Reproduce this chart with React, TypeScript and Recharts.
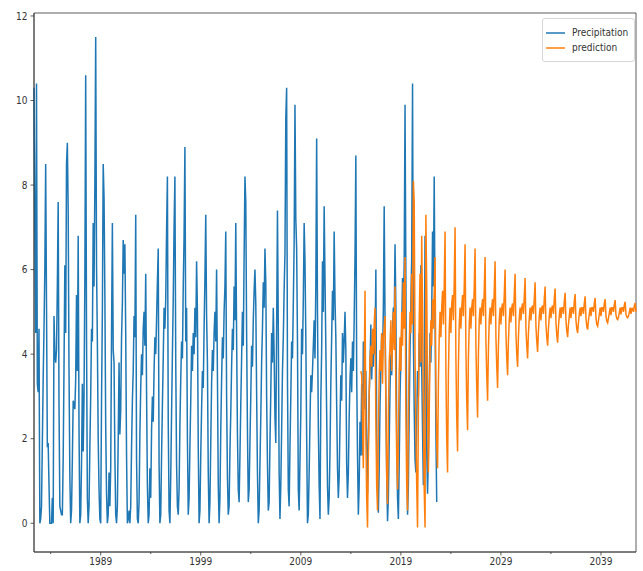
import React from "react";
import {
  LineChart,
  Line,
  XAxis,
  YAxis,
  Legend,
  ReferenceArea,
} from "recharts";

const FONT = "'DejaVu Sans Condensed', 'DejaVu Sans', sans-serif";
const BLUE = "#1f77b4";
const ORANGE = "#ff7f0e";

// monthly precipitation, one row per calendar year (Jan..Dec), first row starts in May 1982
const PRECIP_FIRST_YEAR = 1982;
const precipitationByYear: (number | null)[][] = [
  [null, null, null, null, 10.3, 6.9, 4.5, 10.4, 3.3, 3.1, 4.6, 0.0], // 1982
  [0.1, 0.4, 1.9, 3.4, 4.6, 6.0, 8.5, 5.2, 1.8, 1.9, 0.9, 0.0], // 1983
  [0.0, 0.0, 0.6, 0.0, 4.9, 4.0, 3.8, 4.1, 5.6, 7.6, 2.8, 0.4], // 1984
  [0.3, 0.2, 0.2, 1.5, 3.7, 6.1, 4.5, 8.5, 9.0, 7.4, 3.6, 1.1], // 1985
  [0.0, 0.3, 1.5, 2.9, 2.8, 2.7, 3.4, 5.4, 3.6, 6.8, 2.2, 0.0], // 1986
  [0.2, 1.4, 3.3, 1.7, 3.0, 5.8, 10.6, 4.4, 0.6, 0.0, 0.4, 1.8], // 1987
  [3.0, 4.6, 4.3, 7.1, 5.6, 8.0, 11.5, 6.1, 4.3, 2.0, 0.8, 0.1], // 1988
  [0.0, 2.9, 5.0, 8.5, 7.7, 5.4, 2.3, 0.7, 0.0, 0.2, 1.2, 0.4], // 1989
  [1.3, 4.5, 7.1, 4.1, 3.8, 1.6, 0.2, 0.0, 0.4, 2.0, 3.8, 2.1], // 1990
  [2.7, 4.4, 5.2, 6.7, 5.9, 6.6, 4.5, 1.6, 0.0, 0.1, 0.3, 0.0], // 1991
  [0.4, 1.8, 2.9, 3.6, 4.9, 4.4, 7.3, 1.5, 0.1, 0.0, 0.5, 2.1], // 1992
  [3.2, 4.0, 3.5, 4.6, 5.0, 4.2, 5.9, 3.1, 0.9, 0.0, 0.2, 1.3], // 1993
  [0.6, 2.2, 3.0, 2.4, 3.6, 4.4, 4.0, 4.8, 5.7, 6.5, 1.4, 0.0], // 1994
  [0.2, 1.6, 2.8, 3.9, 5.1, 4.6, 5.3, 6.9, 8.2, 2.4, 0.3, 0.0], // 1995
  [1.1, 2.6, 4.0, 5.3, 7.0, 8.2, 3.8, 1.4, 0.4, 0.2, 0.8, 2.3], // 1996
  [3.4, 4.3, 3.9, 5.6, 6.8, 8.9, 4.3, 5.1, 2.0, 0.2, 0.6, 1.8], // 1997
  [2.9, 4.2, 3.6, 4.5, 4.0, 5.1, 4.4, 6.2, 5.0, 1.8, 0.0, 0.3], // 1998
  [1.6, 2.7, 3.6, 3.2, 4.6, 5.8, 7.3, 4.9, 3.8, 1.2, 0.0, 0.5], // 1999
  [1.9, 3.3, 4.1, 3.6, 4.5, 5.0, 4.3, 6.0, 3.5, 0.9, 0.0, 0.6], // 2000
  [2.2, 3.4, 4.4, 3.9, 5.0, 5.6, 6.9, 3.0, 1.1, 0.2, 0.4, 1.7], // 2001
  [2.6, 3.7, 4.6, 4.1, 5.6, 4.8, 7.1, 4.4, 2.1, 0.8, 0.5, 1.6], // 2002
  [2.8, 3.9, 5.0, 4.2, 6.3, 8.2, 7.6, 4.5, 2.2, 0.5, 0.8, 1.9], // 2003
  [3.0, 4.2, 3.7, 4.8, 5.5, 6.0, 5.2, 3.1, 1.2, 0.0, 0.3, 1.4], // 2004
  [2.5, 3.8, 4.6, 5.7, 5.1, 6.5, 5.7, 3.0, 1.4, 0.3, 0.5, 1.9], // 2005
  [3.1, 4.5, 3.8, 5.1, 4.0, 2.5, 1.9, 4.6, 7.4, 4.6, 1.2, 0.1], // 2006
  [0.9, 2.2, 3.6, 4.4, 5.5, 6.4, 9.6, 10.3, 3.4, 0.8, 0.4, 1.8], // 2007
  [3.0, 4.3, 3.9, 5.2, 6.6, 9.9, 7.2, 6.5, 4.3, 0.8, 0.3, 1.5], // 2008
  [2.6, 4.6, 4.0, 5.3, 7.1, 6.2, 4.4, 2.1, 0.0, 0.2, 1.2, 2.4], // 2009
  [3.5, 3.1, 3.6, 4.2, 4.8, 3.9, 5.6, 9.1, 5.0, 2.3, 0.9, 0.1], // 2010
  [2.9, 4.1, 6.2, 5.0, 7.5, 5.8, 4.2, 2.6, 0.9, 0.2, 0.6, 1.7], // 2011
  [3.3, 4.4, 5.5, 4.8, 6.9, 5.3, 4.4, 2.8, 1.3, 0.6, 1.1, 2.4], // 2012
  [3.5, 2.9, 4.5, 3.8, 4.3, 5.0, 4.1, 1.4, 0.6, 1.2, 2.5, 3.4], // 2013
  [3.9, 3.1, 4.3, 3.6, 4.8, 6.3, 8.7, 3.6, 1.6, 0.2, 0.9, 2.4], // 2014
  [1.6, 3.3, 1.6, 4.3, 3.5, 2.7, 3.6, 2.0, 0.7, 1.8, 3.0, 3.7], // 2015
  [4.7, 3.4, 4.1, 3.7, 4.4, 4.0, 6.0, 2.1, 0.8, 0.25, 1.3, 2.8], // 2016
  [3.6, 4.5, 3.9, 5.1, 7.5, 4.8, 3.0, 1.2, 0.05, 0.6, 1.9, 3.2], // 2017
  [4.0, 3.5, 4.6, 5.1, 4.7, 6.6, 5.1, 2.2, 0.6, 0.1, 1.4, 3.0], // 2018
  [3.9, 4.6, 5.8, 4.9, 6.2, 9.9, 5.8, 2.1, 0.2, 0.9, 2.6, 4.1], // 2019
  [5.2, 6.3, 10.4, 4.4, 2.7, 1.5, 1.2, 2.4, 3.6, 3.0, 4.5, 3.7], // 2020
  [6.1, 3.7, 2.2, 0.9, 3.4, 6.8, 4.6, 1.8, 0.7, 1.6, 3.2, 4.5], // 2021
  [3.8, 5.0, 6.9, 5.6, 8.2, 4.9, 2.2, 0.5], // 2022
];

// monthly model prediction, one row per calendar year, from Jan 2015
const PRED_FIRST_YEAR = 2015;
const predictionByYear: number[][] = [
  [3.6, 3.5, 2.4, 1.3, 3.4, 5.5, 2.1, 0.6, -0.1, 1.6, 3.1, 3.9], // 2015
  [4.2, 3.7, 4.6, 4.0, 4.7, 5.1, 2.4, 0.9, 0.3, 2.2, 3.5, 4.1], // 2016
  [3.6, 4.5, 3.3, 4.4, 4.6, 4.9, 2.8, 1.1, 0.45, 2.5, 3.8, 4.2], // 2017
  [4.8, 3.6, 4.3, 5.0, 4.1, 5.6, 3.0, 1.6, 0.8, 2.0, 3.6, 4.4], // 2018
  [3.6, 5.0, 4.2, 5.7, 4.6, 6.3, 2.6, 0.9, 0.3, 2.4, 4.1, 5.0], // 2019
  [4.5, 5.9, 4.7, 8.1, 7.6, 4.0, 2.2, 0.9, -0.1, 2.6, 4.8, 5.9], // 2020
  [3.8, 6.8, 5.0, 2.5, 0.8, -0.1, 7.3, 5.6, 3.0, 1.2, 2.6, 4.0], // 2021
  [4.8, 4.2, 5.3, 4.6, 5.5, 6.3, 3.2, 1.9, 1.3, 3.3, 4.4, 5.0], // 2022
  [4.4, 5.1, 5.5, 4.7, 5.6, 6.9, 3.6, 2.0, 1.2, 3.5, 4.6, 5.1], // 2023
  [4.5, 5.2, 5.4, 4.8, 5.7, 7.0, 3.9, 2.5, 1.7, 3.7, 4.7, 5.1], // 2024
  [4.6, 5.1, 5.4, 4.9, 5.6, 6.6, 4.1, 2.9, 2.2, 3.9, 4.7, 5.1], // 2025
  [4.6, 5.1, 5.3, 4.9, 5.6, 6.5, 4.2, 3.2, 2.5, 4.0, 4.8, 5.1], // 2026
  [4.7, 5.1, 5.3, 4.9, 5.5, 6.3, 4.3, 3.5, 2.9, 4.1, 4.8, 5.1], // 2027
  [4.7, 5.1, 5.3, 4.9, 5.5, 6.2, 4.4, 3.7, 3.2, 4.2, 4.8, 5.1], // 2028
  [4.7, 5.1, 5.2, 4.9, 5.4, 6.0, 4.5, 3.9, 3.5, 4.3, 4.8, 5.1], // 2029
  [4.75, 5.1, 5.2, 4.9, 5.4, 5.9, 4.5, 4.0, 3.7, 4.4, 4.85, 5.1], // 2030
  [4.8, 5.1, 5.2, 4.95, 5.35, 5.8, 4.6, 4.2, 3.9, 4.5, 4.85, 5.1], // 2031
  [4.8, 5.1, 5.15, 4.95, 5.3, 5.7, 4.65, 4.3, 4.05, 4.55, 4.9, 5.1], // 2032
  [4.8, 5.1, 5.15, 4.95, 5.3, 5.6, 4.7, 4.4, 4.2, 4.6, 4.9, 5.1], // 2033
  [4.85, 5.1, 5.15, 4.95, 5.3, 5.55, 4.75, 4.45, 4.27, 4.65, 4.9, 5.1], // 2034
  [4.85, 5.1, 5.1, 4.95, 5.25, 5.45, 4.8, 4.55, 4.4, 4.7, 4.9, 5.1], // 2035
  [4.85, 5.1, 5.1, 4.95, 5.25, 5.42, 4.8, 4.6, 4.5, 4.75, 4.95, 5.1], // 2036
  [4.9, 5.1, 5.1, 4.95, 5.2, 5.37, 4.85, 4.65, 4.58, 4.8, 4.95, 5.1], // 2037
  [4.9, 5.1, 5.1, 5.0, 5.2, 5.33, 4.85, 4.7, 4.66, 4.8, 4.95, 5.1], // 2038
  [4.9, 5.1, 5.1, 5.0, 5.2, 5.3, 4.9, 4.78, 4.74, 4.85, 4.97, 5.1], // 2039
  [4.92, 5.1, 5.1, 5.0, 5.18, 5.28, 4.92, 4.84, 4.82, 4.88, 4.98, 5.1], // 2040
  [4.94, 5.1, 5.1, 5.0, 5.16, 5.24, 4.94, 4.88, 4.86, 4.9, 4.99, 5.1], // 2041
  [4.95, 5.08, 5.08, 5.0, 5.14, 5.21, 5.0], // 2042
];

const yTicks = [0, 2, 4, 6, 8, 10, 12];
const majorYears = [1989, 1999, 2009, 2019, 2029, 2039];
const minorYears = [1984, 1994, 2004, 2014, 2024, 2034];
const Y_DOMAIN: [number, number] = [-0.68, 12.07];

type Row = { month: number; x: number; precip: number | null; pred: number | null };

function buildData() {
  const byMonth = new Map<number, Row>();
  const get = (m: number) => {
    let r = byMonth.get(m);
    if (!r) {
      r = { month: m, x: m / 12, precip: null, pred: null };
      byMonth.set(m, r);
    }
    return r;
  };
  precipitationByYear.forEach((vals, yi) =>
    vals.forEach((v, mi) => {
      if (v == null) return;
      get((PRECIP_FIRST_YEAR + yi) * 12 + mi).precip = v;
    })
  );
  predictionByYear.forEach((vals, yi) =>
    vals.forEach((v, mi) => {
      get((PRED_FIRST_YEAR + yi) * 12 + mi).pred = v;
    })
  );
  return Array.from(byMonth.values()).sort((a, b) => a.month - b.month);
}

const data = buildData();
const xMin = data[0].x;
const xMax = data[data.length - 1].x;

const XTick = (props: any) => {
  const { x, y, payload } = props;
  const major = majorYears.includes(payload.value);
  const axisY = y - 6;
  return (
    <g>
      <line x1={x} x2={x} y1={axisY} y2={axisY + (major ? 3.5 : 2)} stroke="#333" strokeWidth={0.8} />
      {major && (
        <text x={x} y={y} dy="0.71em" textAnchor="middle" fontSize={10} fontFamily={FONT} fill="#333">
          {payload.value}
        </text>
      )}
    </g>
  );
};

const renderLegend = (props: any) => (
  <div
    style={{
      border: "1px solid #d6d6d6",
      borderRadius: 3,
      background: "rgba(255,255,255,0.8)",
      padding: "6px 6px 6px 3px",
      fontFamily: FONT,
      fontSize: 10,
      color: "#333",
    }}
  >
    {(props.payload || []).map((e: any) => (
      <div key={e.value} style={{ display: "flex", alignItems: "center", height: 15 }}>
        <svg width={19} height={6}>
          <line x1={0} x2={19} y1={3} y2={3} stroke={e.color} strokeWidth={1.5} />
        </svg>
        <span style={{ marginLeft: 7, whiteSpace: "nowrap" }}>{e.value}</span>
      </div>
    ))}
  </div>
);

export default function App() {
  return (
    <div style={{ position: "absolute", left: 0, top: 0, background: "#fff" }}>
      <LineChart
        width={643}
        height={571}
        data={data}
        margin={{ top: 13, right: 7, left: 0, bottom: 0 }}
      >
        <XAxis
          dataKey="x"
          type="number"
          domain={["dataMin", "dataMax"]}
          ticks={[...minorYears, ...majorYears].sort((a, b) => a - b)}
          tick={<XTick />}
          tickLine={false}
          tickSize={4}
          tickMargin={2}
          height={19}
          axisLine={{ stroke: "#333", strokeWidth: 0.8 }}
        />
        <YAxis
          type="number"
          domain={Y_DOMAIN}
          allowDataOverflow
          ticks={yTicks}
          width={34}
          tickSize={3.5}
          tickMargin={3}
          tick={{ fontSize: 10, fontFamily: FONT, fill: "#333" }}
          tickLine={{ stroke: "#333", strokeWidth: 0.8 }}
          axisLine={{ stroke: "#333", strokeWidth: 0.8 }}
        />
        <ReferenceArea
          x1={xMin}
          x2={xMax}
          y1={Y_DOMAIN[0]}
          y2={Y_DOMAIN[1]}
          fill="none"
          stroke="#333"
          strokeWidth={0.8}
          ifOverflow="visible"
        />
        <Line
          type="linear"
          dataKey="precip"
          name="Precipitation"
          stroke={BLUE}
          strokeWidth={1.5}
          dot={false}
          connectNulls={false}
          isAnimationActive={false}
        />
        <Line
          type="linear"
          dataKey="pred"
          name="prediction"
          stroke={ORANGE}
          strokeWidth={1.5}
          dot={false}
          connectNulls={false}
          isAnimationActive={false}
        />
        <Legend
          layout="vertical"
          align="center"
          verticalAlign="middle"
          content={renderLegend}
          wrapperStyle={{ top: 18, left: 542, width: "auto", height: "auto" }}
        />
      </LineChart>
    </div>
  );
}
